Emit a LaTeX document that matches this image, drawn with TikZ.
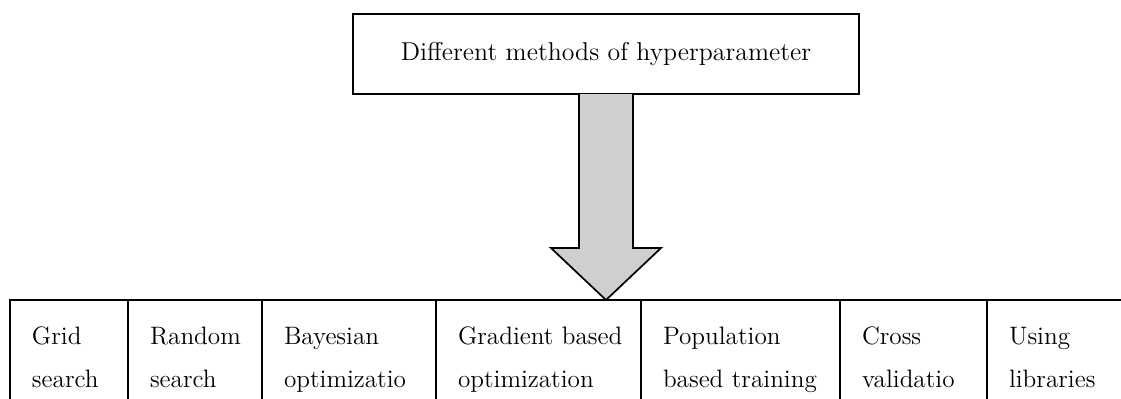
\documentclass[tikz,border=0pt]{standalone}
\usetikzlibrary{calc}

\definecolor{arrowgray}{RGB}{208,206,209}

\tikzset{
  frame/.style={draw=black, line width=0.85pt, outer sep=0pt},
  titlebox/.style={frame, fill=white, inner sep=0pt,
    minimum width=253pt, minimum height=40pt,
    font=\fontsize{12.9pt}{14pt}\selectfont},
  cell/.style={frame, anchor=north west, inner xsep=11pt, inner ysep=0pt,
    text width=#1, align=left, text depth=40pt,
    font=\fontsize{12.6pt}{21.5pt}\selectfont,
    execute at begin node={\rule{0pt}{22pt}}},
  bigarrow/.style={draw=black, line width=0.85pt, fill=arrowgray,
    line join=miter},
}

\begin{document}
\begin{tikzpicture}[x=0.5pt, y=-0.5pt]
  \useasboundingbox (0,0) rectangle (1121,398);
  \clip (0,0) rectangle (1121,398);

  % heading box
  \node[titlebox] (top) at (606,54) {Different methods of hyperparameter};

  % row of methods
  \node[cell=37pt]   (c1) at (10,300)          {Grid\\search};
  \node[cell=45pt]   (c2) at (c1.north east)   {Random\\search};
  \node[cell=65pt]   (c3) at (c2.north east)   {Bayesian\\optimizatio};
  \node[cell=80.5pt] (c4) at (c3.north east)   {\mbox{Gradient based}\\optimization};
  \node[cell=77.5pt] (c5) at (c4.north east)   {Population\\\mbox{based training}};
  \node[cell=51.5pt] (c6) at (c5.north east)   {Cross\\validatio};
  \node[cell=60pt]   (c7) at (c6.north east)   {Using\\libraries};

  % block arrow from the heading down to the row
  \coordinate (tip) at (top.south |- c4.north);
  \draw[bigarrow] ($(top.south)+(-27,0)$) -- ($(tip)+(-27,-52)$)
    -- ($(tip)+(-55,-52)$) -- (tip) -- ($(tip)+(55,-52)$)
    -- ($(tip)+(27,-52)$) -- ($(top.south)+(27,0)$);
\end{tikzpicture}
\end{document}
